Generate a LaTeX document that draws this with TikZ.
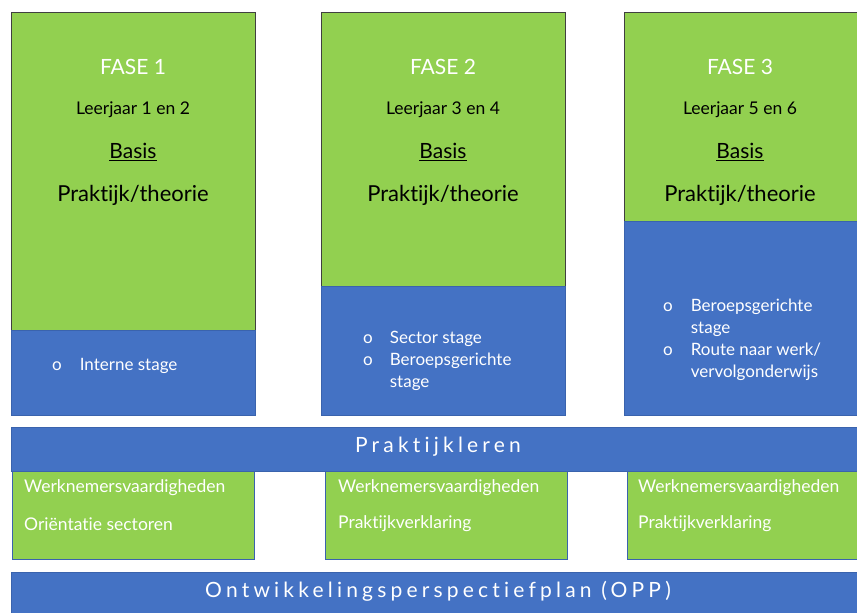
\documentclass[tikz,border=0pt]{standalone}
\usepackage{fontspec}
\setmainfont{Lato}[Ligatures=NoCommon]
\usetikzlibrary{positioning}
\definecolor{fasegreen}{HTML}{92D050}
\definecolor{faseblue}{HTML}{4472C4}
\definecolor{blueline}{HTML}{3A63AD}
\newcommand{\sz}[1]{\fontsize{#1}{1.3\dimexpr#1pt\relax}\selectfont}
\newcommand{\spaced}{\addfontfeatures{LetterSpace=20}}

\begin{document}
\begin{tikzpicture}[x=1pt,y=-1pt,font=\sz{17.5},
    groen/.style={fill=fasegreen,draw=black!75,line width=0.6pt,anchor=north west,inner sep=0pt},
    blauw/.style={fill=faseblue,draw=blueline,line width=0.6pt,anchor=north west,inner sep=0pt},
    lijst/.style={text=white,anchor=west,inner sep=0pt,font=\fontsize{17}{22}\selectfont},
    wit/.style={text=white,inner sep=0pt},
    zwart/.style={text=black,inner sep=0pt}]
    \useasboundingbox (0,0) rectangle (857,613);
    \clip (0,0) rectangle (857,613);
    % fasen
    \node[groen,minimum width=244,minimum height=319] (f1) at (11,12) {};
    \node[blauw,minimum width=244,minimum height=85] (s1) at (11,330) {};
    \node[groen,minimum width=244,minimum height=274] (f2) at (321,12) {};
    \node[blauw,minimum width=244,minimum height=129] (s2) at (321,286) {};
    \node[groen,minimum width=240,minimum height=209] (f3) at (624,12) {};
    \node[blauw,minimum width=240,minimum height=194] (s3) at (624,221) {};
    % teksten in de fasen
    \foreach \n/\cx/\jr in {1/133/1 en 2,2/443/3 en 4,3/740/5 en 6}{
        \node[wit,font=\sz{21}] (fase\n) at (\cx,67) {FASE \n};
        \node[zwart,font=\sz{17.5}] (jaar\n) at (\cx,110) {Leerjaar \jr};
        \node[zwart,font=\sz{21}] (basis\n) at (\cx,152) {\underline{Basis}};
        \node[zwart,font=\sz{22}] (pt\n) at (\cx,195) {Praktijk/theorie};
    }
    % stages
    \node[lijst] (st1) at (52,366) {\begin{tabular}{@{}l@{\hspace{18pt}}l@{}}o & Interne stage\end{tabular}};
    \node[lijst] (st2) at (363,361) {\begin{tabular}{@{}l@{\hspace{17pt}}l@{}}o & Sector stage\\o & Beroepsgerichte\\ & stage\end{tabular}};
    \node[lijst] (st3) at (663,340) {\begin{tabular}{@{}l@{\hspace{18pt}}l@{}}o & Beroepsgerichte\\ & stage\\o & Route naar werk/\\ & vervolgonderwijs\end{tabular}};
    % praktijkleren
    \node[blauw,minimum width=852,minimum height=44] (pl) at (11,427) {};
    \node[wit,font=\sz{21}\spaced] (plt) at (438,447) {Praktijkleren};
    \node[groen,draw=blueline,minimum width=242,minimum height=88] (w1) at (12,471) {};
    \node[groen,draw=blueline,minimum width=242,minimum height=88] (w2) at (325,471) {};
    \node[groen,draw=blueline,minimum width=236,minimum height=88] (w3) at (627,471) {};
    \foreach \n/\lx/\tw in {1/24/Oriëntatie sectoren,2/338/Praktijkverklaring,3/638/Praktijkverklaring}{
        \node[wit,anchor=west] (wv\n) at (\lx,488) {Werknemersvaardigheden};
        \node[wit,anchor=west] (tw\n) at (\lx,524) {\tw};
    }
    % opp
    \node[blauw,minimum width=852,minimum height=50] (opp) at (11,572) {};
    \node[wit,font=\sz{21}\spaced] (oppt) at (438,591) {Ontwikkelingsperspectiefplan (OPP)};
\end{tikzpicture}
\end{document}
